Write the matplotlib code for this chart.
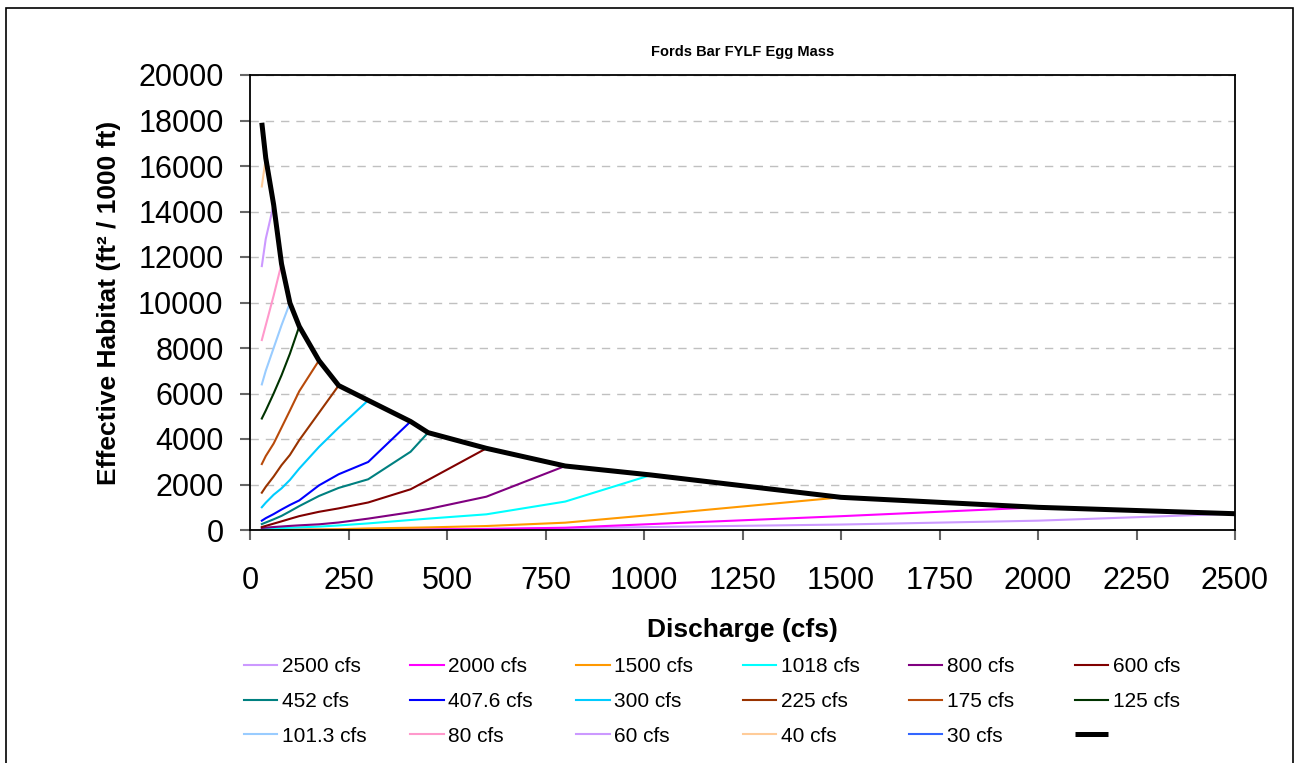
import matplotlib
matplotlib.use("Agg")
import matplotlib.pyplot as plt
from matplotlib.patches import Rectangle

plt.rcParams['font.family'] = ['Liberation Sans', 'DejaVu Sans']

# discharge points (cfs)
flows = [30, 40, 60, 80, 101.3, 125, 175, 225, 300, 407.6, 452, 600, 800, 1018, 1500, 2000, 2500]

# effective habitat for each modelled flow
h2500 = [0, 0, 5, 5, 8, 10, 12, 15, 20, 30, 35, 50, 80, 130, 240, 410, 716]
h2000 = [0, 2, 3, 4, 5, 6, 8, 10, 15, 22, 25, 45, 100, 260, 607, 997]
h1500 = [5, 8, 10, 12, 15, 18, 25, 35, 70, 100, 115, 175, 322, 660, 1436]
h1018 = [50, 55, 70, 85, 100, 115, 150, 200, 290, 440, 500, 689, 1250, 2418]
h800 = [90, 105, 130, 155, 180, 205, 250, 330, 500, 780, 920, 1465, 2813]
h600 = [130, 180, 280, 380, 490, 610, 800, 950, 1210, 1790, 2200, 3590]
h452 = [260, 330, 470, 620, 820, 1050, 1495, 1850, 2230, 3440, 4280]
h407 = [410, 520, 700, 900, 1100, 1300, 1960, 2450, 2990, 4770]
h300 = [1000, 1200, 1550, 1830, 2200, 2700, 3650, 4500, 5700]
h225 = [1640, 1900, 2350, 2850, 3300, 3950, 5150, 6350]
h175 = [2900, 3250, 3800, 4500, 5250, 6100, 7450]
h125 = [4900, 5250, 6000, 6800, 7750, 8950]
h101 = [6400, 7000, 8000, 9000, 9980]
h80 = [8350, 9000, 10300, 11700]
h60 = [11600, 12800, 14300]
h40 = [15100, 16350]
h30 = [17900]

series = [h2500, h2000, h1500, h1018, h800, h600, h452, h407, h300,
          h225, h175, h125, h101, h80, h60, h40, h30]
labels = ['2500 cfs', '2000 cfs', '1500 cfs', '1018 cfs', '800 cfs', '600 cfs',
          '452 cfs', '407.6 cfs', '300 cfs', '225 cfs', '175 cfs', '125 cfs',
          '101.3 cfs', '80 cfs', '60 cfs', '40 cfs', '30 cfs']
colors = ['#CC99FF', '#FF00FF', '#FF9900', '#00FFFF', '#800080', '#800000',
          '#008080', '#0000FF', '#00CCFF', '#993300', '#B84A0A', '#003300',
          '#99CCFF', '#FF99CC', '#CC99FF', '#FFCC99', '#3366FF']

# envelope = each flow's own value
envelope = [s[-1] for s in series[::-1]]

fig = plt.figure(figsize=(12.96, 7.63), dpi=100)
ax = fig.add_axes([250/1296, 233/763, 985/1296, 455/763])

handles = []
for s, lab, c in zip(series, labels, colors):
    ln, = ax.plot(flows[:len(s)], s, color=c, lw=1.5, label=lab)
    handles.append(ln)
env, = ax.plot(flows, envelope, color='black', lw=3.6, solid_capstyle='butt', zorder=5)
handles.append(env)
labels = labels + ['']

ax.set_xlim(0, 2500)
ax.set_ylim(0, 20000)
ax.set_xticks(range(0, 2501, 250))
ax.set_yticks(range(0, 20001, 2000))
ax.yaxis.grid(True, color='#C0C0C0', ls=(0, (6, 5)), lw=1)
ax.set_axisbelow(True)
ax.tick_params(axis='both', direction='out', length=7, width=1.5, color='#666666',
               labelsize=22)
ax.tick_params(axis='x', pad=19)
ax.tick_params(axis='y', pad=12)
for sp in ax.spines.values():
    sp.set_linewidth(1.3)

ax.set_title('Fords Bar FYLF Egg Mass', fontsize=10.5, fontweight='bold', pad=14)
ax.set_xlabel('Discharge (cfs)', fontsize=19, fontweight='bold', labelpad=16)
ax.set_ylabel('Effective Habitat (ft² / 1000 ft)', fontsize=19, fontweight='bold', labelpad=12)

# legend: 6 columns, filled row by row
for c in range(6):
    idx = [c, c + 6, c + 12]
    fig.legend([handles[i] for i in idx], [labels[i] for i in idx],
               loc='upper left', bbox_to_anchor=((244 + 166.2*c)/1296, 1 - 657/763),
               frameon=False, fontsize=15, handlelength=1.6, handletextpad=0.22,
               labelspacing=0.76, borderpad=0, borderaxespad=0)

fig.patches.append(Rectangle((6/1296, -0.01), 1287/1296, 1 - 8/763 + 0.01,
                             transform=fig.transFigure, fill=False,
                             edgecolor='black', lw=1.2))

fig.savefig('out.png', dpi=100)
